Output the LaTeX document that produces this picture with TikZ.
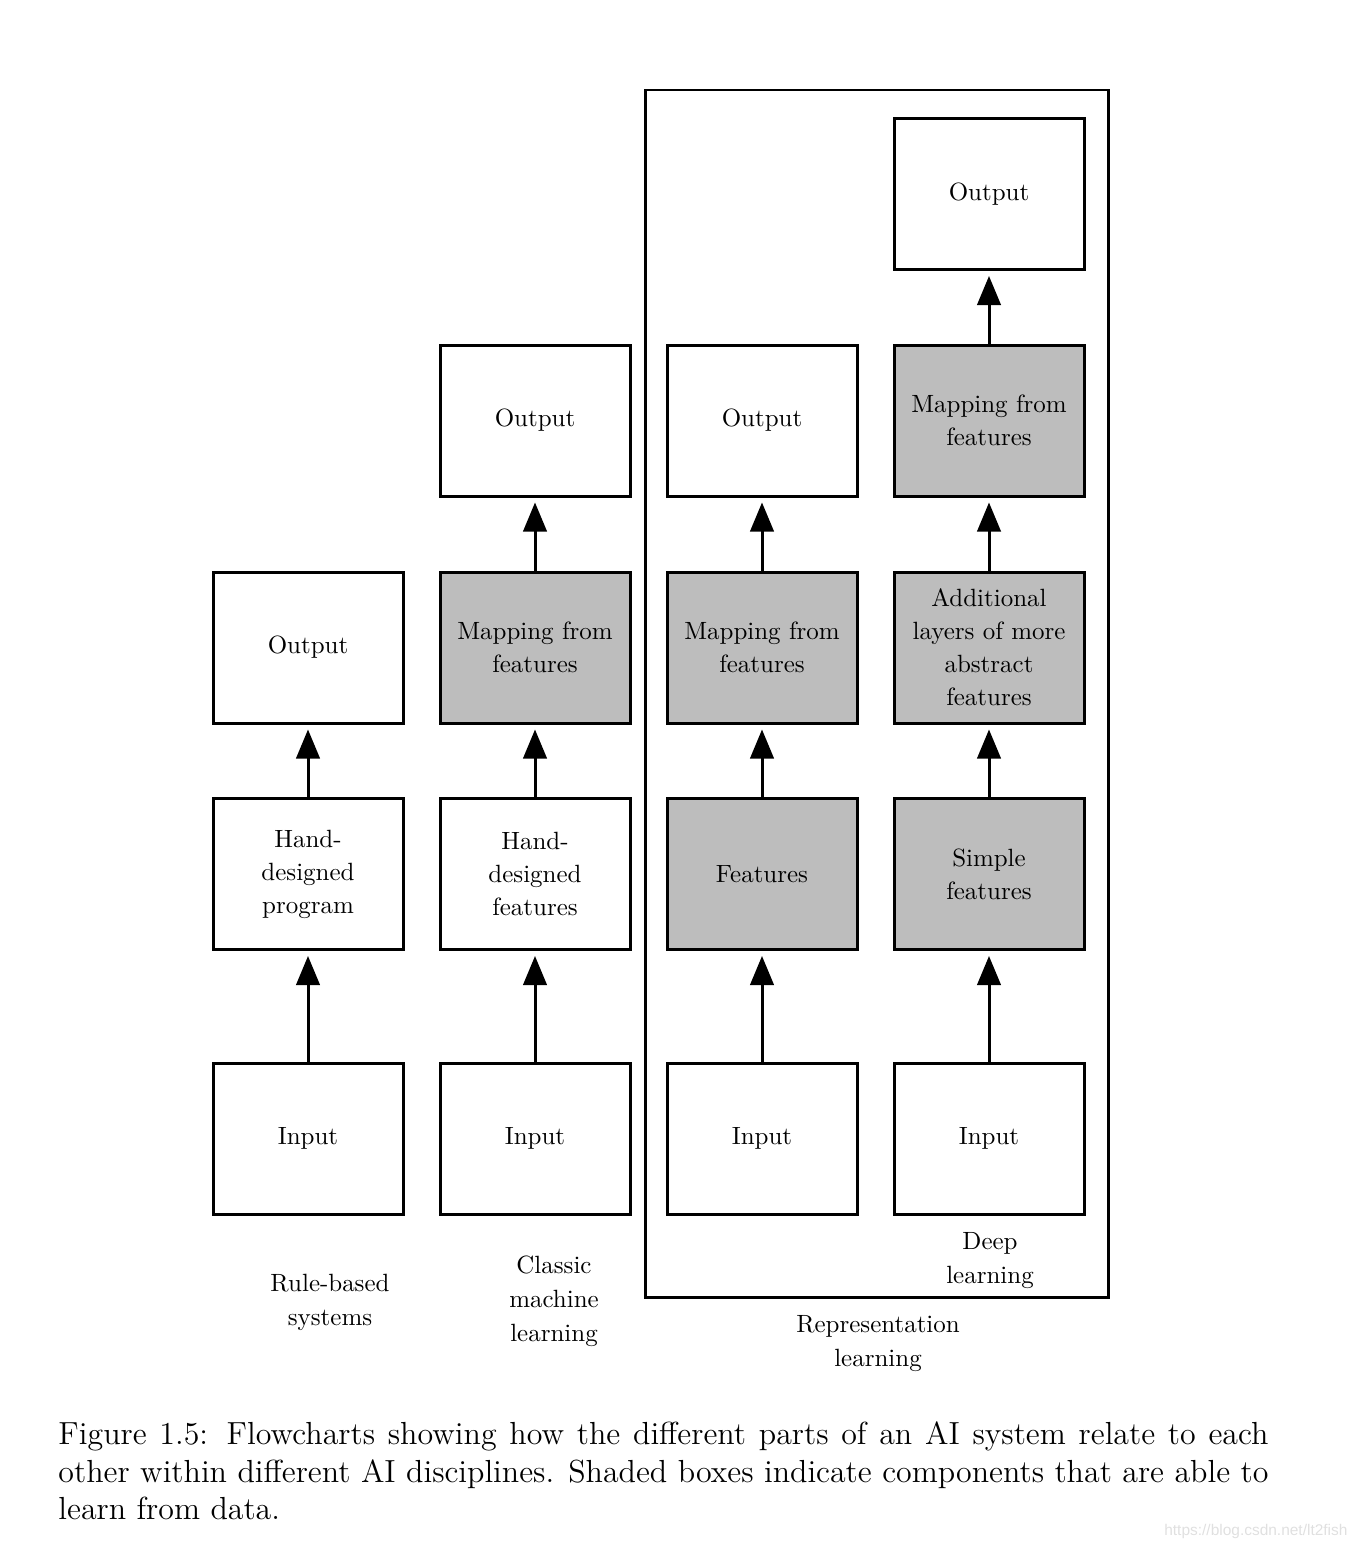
\documentclass[tikz,border=0pt]{standalone}
\usepackage{fontspec}
\newfontfamily\wmfont{Liberation Sans}
\usetikzlibrary{arrows.meta}
\begin{document}
\begin{tikzpicture}[x=0.01408cm,y=-0.01408cm,
  box/.style={draw=black,line width=1.2pt,fill=white,minimum width=190*0.01408cm,minimum height=151*0.01408cm,inner sep=0pt,align=center,font=\fontsize{10}{13.2}\selectfont},
  shaded/.style={box,fill=black!26},
  flow/.style={line width=1.2pt,-{Triangle[length=0.41cm,width=0.33cm]},shorten >=0.07cm},
  lbl/.style={align=center,font=\fontsize{10}{13.6}\selectfont,inner sep=0pt}]
\useasboundingbox (0,0) rectangle (1356,1552);
% frame
\draw[line width=1.2pt] (645,90) rectangle (1108,1297);
% column 1
\node[box] (a1) at (308,1138.5) {Input};
\node[box] (a2) at (308,874) {Hand-\\designed\\program};
\node[box] (a3) at (308,647.5) {Output};
% column 2
\node[box] (b1) at (535,1138.5) {Input};
\node[box] (b2) at (535,874) {Hand-\\designed\\features};
\node[shaded] (b3) at (535,647.5) {Mapping from\\features};
\node[box] (b4) at (535,420.5) {Output};
% column 3
\node[box] (c1) at (762,1138.5) {Input};
\node[shaded] (c2) at (762,874) {Features};
\node[shaded] (c3) at (762,647.5) {Mapping from\\features};
\node[box] (c4) at (762,420.5) {Output};
% column 4
\node[box] (d1) at (989,1138.5) {Input};
\node[shaded] (d2) at (989,874) {Simple\\features};
\node[shaded] (d3) at (989,647.5) {Additional\\layers of more\\abstract\\features};
\node[shaded] (d4) at (989,420.5) {Mapping from\\features};
\node[box] (d5) at (989,194) {Output};
% arrows
\draw[flow] (a1) -- (a2);
\draw[flow] (a2) -- (a3);
\draw[flow] (b1) -- (b2);
\draw[flow] (b2) -- (b3);
\draw[flow] (b3) -- (b4);
\draw[flow] (c1) -- (c2);
\draw[flow] (c2) -- (c3);
\draw[flow] (c3) -- (c4);
\draw[flow] (d1) -- (d2);
\draw[flow] (d2) -- (d3);
\draw[flow] (d3) -- (d4);
\draw[flow] (d4) -- (d5);
% labels
\node[lbl] (l1) at (330,1302) {Rule-based\\systems};
\node[lbl] (l2) at (554,1301) {Classic\\machine\\learning};
\node[lbl] (l3) at (990,1261) {Deep\\learning};
\node[lbl] (l4) at (878,1344) {Representation\\learning};
% caption
\node[anchor=north west,inner sep=0pt,text width=1210*0.01408cm,align=justify,font=\fontsize{12.8}{15.1}\selectfont] (cap) at (58,1421)
 {Figure 1.5: Flowcharts showing how the different parts of an AI system relate to each\linebreak other within different AI disciplines. Shaded boxes indicate components that are able to\linebreak learn from data.};
\node[anchor=south east,inner sep=0pt,text=black!12,font=\wmfont\fontsize{6.2}{7}\selectfont] (wm) at (1348,1539) {https://blog.csdn.net/lt2fish};
\end{tikzpicture}
\end{document}
